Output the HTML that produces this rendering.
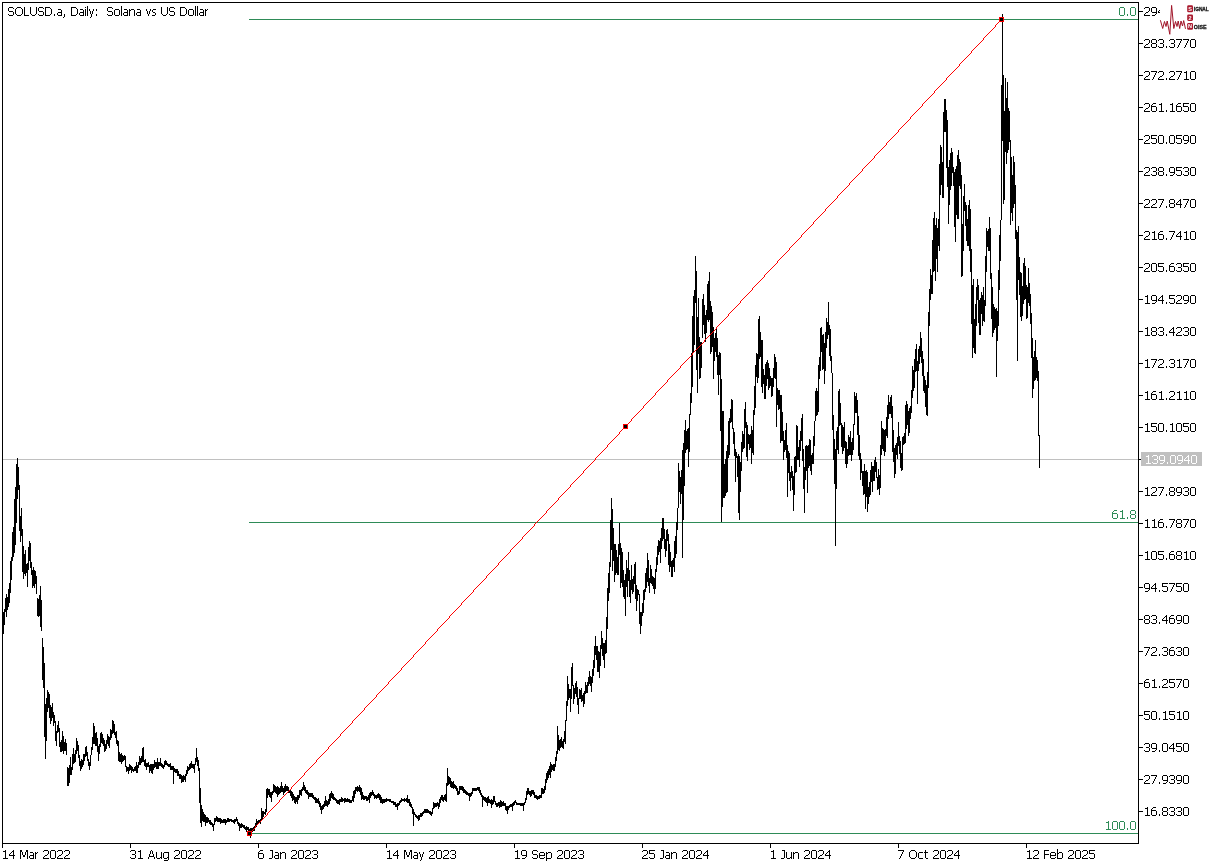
<!DOCTYPE html>
<html><head><meta charset="utf-8"><title>SOLUSD.a Daily</title>
<style>
html,body{margin:0;padding:0;background:#fff;}
body{width:1215px;height:867px;position:relative;overflow:hidden;font-family:"Liberation Sans",sans-serif;font-size:12.5px;color:#000;}
.t{position:absolute;white-space:pre;line-height:14px;height:14px;transform-origin:0 0;}
.g{color:#2e8b57;}
svg{position:absolute;left:0;top:0;}
</style></head><body>

<svg width="1215" height="867" viewBox="0 0 1215 867" shape-rendering="crispEdges">
<rect x="3" y="459" width="1135" height="1" fill="#c0c0c0"/>
<rect x="249" y="19" width="889" height="1" fill="#2e8b57"/>
<rect x="249" y="522" width="889" height="1" fill="#2e8b57"/>
<rect x="249" y="833" width="889" height="1" fill="#2e8b57"/>
<path d="M3.5 612V634M4.5 609V625M5.5 598V612M6.5 594V617M7.5 597V610M8.5 589V607M9.5 583V603M10.5 561V593M11.5 557V580M12.5 532V561M13.5 527V557M14.5 499V553M15.5 487V545M16.5 464V523M17.5 458V499M18.5 467V490M19.5 485V531M20.5 516V542M21.5 508V536M22.5 529V572M23.5 546V579M24.5 554V574M25.5 550V576M26.5 564V573M27.5 563V587M28.5 547V570M29.5 541V561M30.5 543V568M31.5 562V575M32.5 570V588M33.5 567V586M34.5 570V588M35.5 571V584M36.5 576V594M37.5 598V616M38.5 599V617M39.5 595V616M40.5 586V627M41.5 600V631M42.5 638V680M43.5 647V688M44.5 663V737M45.5 704V759M46.5 698V741M47.5 690V712M48.5 692V708M49.5 694V718M50.5 705V724M51.5 707V721M52.5 703V718M53.5 712V726M54.5 715V723M55.5 721V741M56.5 731V746M57.5 725V733M58.5 721V732M59.5 728V747M60.5 742V752M61.5 740V752M62.5 731V751M63.5 736V754M64.5 742V751M65.5 739V751M66.5 743V755M67.5 767V786M68.5 768V786M69.5 765V783M70.5 757V775M71.5 767V775M72.5 754V770M73.5 748V764M74.5 754V763M75.5 750V762M76.5 738V754M77.5 741V751M78.5 745V758M79.5 755V766M80.5 761V771M81.5 759V769M82.5 760V767M83.5 754V765M84.5 754V761M85.5 747V757M86.5 746V756M87.5 752V761M88.5 759V766M89.5 762V770M90.5 755V766M91.5 747V755M92.5 737V750M93.5 723V744M94.5 726V744M95.5 733V746M96.5 732V746M97.5 738V752M98.5 746V761M99.5 744V754M100.5 733V747M101.5 732V743M102.5 734V744M103.5 738V746M104.5 740V752M105.5 744V751M106.5 740V749M107.5 734V744M108.5 736V746M109.5 737V748M110.5 729V740M111.5 730V738M112.5 720V734M113.5 721V733M114.5 724V735M115.5 732V738M116.5 731V744M117.5 740V746M118.5 741V761M119.5 752V762M120.5 754V762M121.5 753V764M122.5 755V762M123.5 756V761M124.5 755V760M125.5 756V767M126.5 766V772M127.5 767V771M128.5 767V774M129.5 764V771M130.5 765V770M131.5 766V773M132.5 767V771M133.5 769V772M134.5 767V771M135.5 766V771M136.5 762V773M137.5 765V773M138.5 762V768M139.5 756V765M140.5 758V765M141.5 756V763M142.5 748V762M143.5 747V762M144.5 760V766M145.5 759V767M146.5 763V770M147.5 763V767M148.5 762V767M149.5 765V773M150.5 764V771M151.5 764V773M152.5 764V774M153.5 764V770M154.5 760V768M155.5 762V767M156.5 762V769M157.5 758V769M158.5 762V769M159.5 762V766M160.5 758V766M161.5 763V767M162.5 764V768M163.5 765V769M164.5 761V767M165.5 760V765M166.5 761V765M167.5 763V766M168.5 764V767M169.5 764V767M170.5 763V770M171.5 766V770M172.5 766V770M173.5 766V784M174.5 768V772M175.5 769V773M176.5 769V773M177.5 769V776M178.5 771V776M179.5 774V779M180.5 774V779M181.5 775V783M182.5 776V782M183.5 775V782M184.5 776V780M185.5 774V782M186.5 770V776M187.5 766V774M188.5 767V771M189.5 764V770M190.5 763V769M191.5 761V768M192.5 764V768M193.5 764V769M194.5 764V773M195.5 758V765M196.5 748V762M197.5 757V766M198.5 760V771M199.5 768V803M200.5 788V823M201.5 805V827M202.5 809V821M203.5 812V822M204.5 814V822M205.5 815V826M206.5 817V823M207.5 817V823M208.5 818V822M209.5 820V824M210.5 820V825M211.5 822V825M212.5 823V827M213.5 824V831M214.5 818V825M215.5 818V822M216.5 816V821M217.5 817V822M218.5 818V822M219.5 818V822M220.5 818V824M221.5 819V823M222.5 820V823M223.5 819V823M224.5 819V823M225.5 819V825M226.5 820V823M227.5 818V822M228.5 818V822M229.5 819V822M230.5 819V821M231.5 819V822M232.5 820V822M233.5 820V823M234.5 819V824M235.5 819V822M236.5 817V821M237.5 819V824M238.5 822V826M239.5 823V831M240.5 824V828M241.5 823V828M242.5 824V827M243.5 825V828M244.5 825V829M245.5 827V830M246.5 826V832M247.5 827V830M248.5 827V832M249.5 829V835M250.5 828V838M251.5 828V834M252.5 828V832M253.5 827V831M254.5 826V831M255.5 823V828M256.5 819V827M257.5 821V824M258.5 820V824M259.5 820V823M260.5 819V824M261.5 808V821M262.5 811V819M263.5 811V817M264.5 812V814M265.5 809V815M266.5 789V812M267.5 788V798M268.5 789V795M269.5 789V797M270.5 792V798M271.5 792V802M272.5 791V795M273.5 784V793M274.5 785V792M275.5 786V793M276.5 787V794M277.5 786V797M278.5 787V795M279.5 788V794M280.5 786V793M281.5 782V792M282.5 786V792M283.5 788V795M284.5 786V793M285.5 784V792M286.5 786V791M287.5 786V791M288.5 787V793M289.5 790V793M290.5 789V796M291.5 791V798M292.5 792V801M293.5 794V800M294.5 796V803M295.5 797V804M296.5 797V802M297.5 795V804M298.5 795V800M299.5 790V798M300.5 790V795M301.5 789V796M302.5 787V791M303.5 782V790M304.5 785V791M305.5 787V793M306.5 790V794M307.5 790V795M308.5 792V799M309.5 793V797M310.5 793V797M311.5 793V797M312.5 793V798M313.5 795V799M314.5 797V800M315.5 797V803M316.5 798V803M317.5 799V803M318.5 798V804M319.5 801V807M320.5 803V810M321.5 806V814M322.5 805V810M323.5 804V809M324.5 801V807M325.5 796V806M326.5 800V806M327.5 801V807M328.5 799V805M329.5 794V804M330.5 793V801M331.5 791V798M332.5 793V799M333.5 794V800M334.5 797V800M335.5 798V801M336.5 799V803M337.5 800V804M338.5 800V804M339.5 799V805M340.5 799V802M341.5 797V802M342.5 798V802M343.5 799V801M344.5 798V803M345.5 798V802M346.5 799V802M347.5 798V802M348.5 799V802M349.5 799V803M350.5 800V803M351.5 800V803M352.5 796V801M353.5 791V802M354.5 790V798M355.5 787V794M356.5 787V791M357.5 786V792M358.5 787V791M359.5 785V792M360.5 787V795M361.5 788V800M362.5 792V799M363.5 795V800M364.5 796V800M365.5 796V799M366.5 796V801M367.5 797V801M368.5 795V800M369.5 793V803M370.5 792V798M371.5 792V796M372.5 790V795M373.5 792V796M374.5 794V799M375.5 795V798M376.5 795V799M377.5 794V798M378.5 793V798M379.5 794V800M380.5 795V803M381.5 797V803M382.5 799V804M383.5 799V803M384.5 799V803M385.5 799V802M386.5 798V802M387.5 799V801M388.5 799V801M389.5 799V802M390.5 799V802M391.5 801V803M392.5 801V803M393.5 801V805M394.5 802V805M395.5 802V807M396.5 804V807M397.5 803V810M398.5 803V806M399.5 801V805M400.5 800V803M401.5 798V802M402.5 799V801M403.5 799V801M404.5 798V802M405.5 799V801M406.5 798V802M407.5 795V803M408.5 799V803M409.5 799V806M410.5 802V807M411.5 804V808M412.5 807V814M413.5 809V826M414.5 812V815M415.5 814V817M416.5 815V818M417.5 816V819M418.5 815V821M419.5 815V820M420.5 813V817M421.5 813V817M422.5 812V816M423.5 811V814M424.5 809V813M425.5 809V813M426.5 809V813M427.5 809V813M428.5 810V813M429.5 811V814M430.5 811V815M431.5 812V816M432.5 808V814M433.5 802V809M434.5 803V808M435.5 803V807M436.5 803V807M437.5 802V806M438.5 803V809M439.5 799V807M440.5 797V803M441.5 795V800M442.5 795V801M443.5 797V802M444.5 795V800M445.5 794V801M446.5 783V802M447.5 768V786M448.5 776V785M449.5 777V784M450.5 778V787M451.5 781V788M452.5 782V788M453.5 781V789M454.5 784V788M455.5 785V789M456.5 786V791M457.5 788V795M458.5 791V795M459.5 786V794M460.5 786V790M461.5 786V790M462.5 786V791M463.5 787V793M464.5 789V793M465.5 790V794M466.5 791V795M467.5 792V795M468.5 793V796M469.5 793V801M470.5 793V797M471.5 792V796M472.5 788V794M473.5 788V791M474.5 788V791M475.5 788V791M476.5 788V791M477.5 787V790M478.5 787V791M479.5 787V793M480.5 790V795M481.5 793V797M482.5 795V807M483.5 796V800M484.5 797V801M485.5 797V802M486.5 798V803M487.5 797V806M488.5 796V803M489.5 799V803M490.5 800V804M491.5 799V808M492.5 800V805M493.5 796V804M494.5 796V802M495.5 801V805M496.5 803V807M497.5 803V807M498.5 802V806M499.5 802V808M500.5 800V807M501.5 801V807M502.5 802V806M503.5 801V806M504.5 803V806M505.5 803V810M506.5 806V811M507.5 806V814M508.5 806V810M509.5 805V808M510.5 804V807M511.5 804V807M512.5 803V811M513.5 802V806M514.5 801V805M515.5 800V803M516.5 802V805M517.5 803V805M518.5 803V805M519.5 803V805M520.5 803V806M521.5 803V806M522.5 803V806M523.5 803V811M524.5 802V805M525.5 798V803M526.5 791V800M527.5 788V795M528.5 788V794M529.5 791V795M530.5 791V797M531.5 790V796M532.5 790V794M533.5 790V795M534.5 792V798M535.5 795V798M536.5 795V799M537.5 796V800M538.5 796V799M539.5 795V799M540.5 795V798M541.5 788V798M542.5 788V794M543.5 789V794M544.5 786V793M545.5 779V790M546.5 773V783M547.5 771V780M548.5 769V778M549.5 766V775M550.5 762V778M551.5 764V772M552.5 765V770M553.5 764V771M554.5 764V771M555.5 757V767M556.5 751V761M557.5 726V754M558.5 735V750M559.5 740V751M560.5 739V748M561.5 737V747M562.5 741V748M563.5 739V749M564.5 731V742M565.5 720V744M566.5 701V721M567.5 676V706M568.5 684V700M569.5 689V698M570.5 689V712M571.5 667V699M572.5 663V686M573.5 685V704M574.5 688V699M575.5 683V694M576.5 681V697M577.5 687V705M578.5 698V714M579.5 689V699M580.5 690V699M581.5 688V702M582.5 695V701M583.5 693V707M584.5 691V704M585.5 682V694M586.5 685V693M587.5 682V693M588.5 677V686M589.5 671V684M590.5 676V686M591.5 677V692M592.5 669V683M593.5 660V676M594.5 646V668M595.5 636V655M596.5 646V660M597.5 646V672M598.5 651V672M599.5 652V678M600.5 645V666M601.5 631V649M602.5 638V656M603.5 643V660M604.5 643V668M605.5 640V654M606.5 617V653M607.5 588V629M608.5 573V601M609.5 562V593M610.5 520V567M611.5 498V550M612.5 509V571M613.5 528V561M614.5 544V582M615.5 544V575M616.5 550V573M617.5 557V575M618.5 544V575M619.5 523V555M620.5 543V588M621.5 548V583M622.5 552V587M623.5 570V597M624.5 580V599M625.5 574V616M626.5 560V587M627.5 568V597M628.5 552V581M629.5 570V597M630.5 580V603M631.5 565V590M632.5 579V594M633.5 576V592M634.5 564V584M635.5 562V599M636.5 585V611M637.5 589V601M638.5 590V595M639.5 594V624M640.5 612V634M641.5 612V626M642.5 603V616M643.5 590V613M644.5 589V600M645.5 573V592M646.5 568V588M647.5 553V582M648.5 560V586M649.5 578V593M650.5 565V583M651.5 569V584M652.5 576V586M653.5 577V589M654.5 578V594M655.5 569V589M656.5 557V572M657.5 546V565M658.5 540V555M659.5 541V552M660.5 538V563M661.5 528V549M662.5 518V541M663.5 518V539M664.5 529V549M665.5 539V557M666.5 530V551M667.5 529V541M668.5 534V565M669.5 544V572M670.5 552V567M671.5 561V577M672.5 560V577M673.5 558V567M674.5 541V572M675.5 536V558M676.5 522V554M677.5 508V530M678.5 463V508M679.5 471V492M680.5 477V504M681.5 470V494M682.5 450V558M683.5 443V520M684.5 430V486M685.5 420V453M686.5 431V450M687.5 429V449M688.5 428V467M689.5 414V452M690.5 393V415M691.5 353V403M692.5 316V387M693.5 296V352M694.5 290V345M695.5 256V303M696.5 271V370M697.5 317V393M698.5 298V354M699.5 337V379M700.5 342V378M701.5 342V368M702.5 299V338M703.5 294V325M704.5 305V334M705.5 315V342M706.5 310V333M707.5 284V320M708.5 281V322M709.5 272V320M710.5 301V354M711.5 306V352M712.5 312V347M713.5 327V379M714.5 338V361M715.5 333V352M716.5 327V357M717.5 338V375M718.5 355V395M719.5 352V375M720.5 353V431M721.5 379V522M722.5 411V507M723.5 411V498M724.5 464V498M725.5 459V496M726.5 451V493M727.5 445V492M728.5 421V458M729.5 418V455M730.5 409V423M731.5 399V422M732.5 400V429M733.5 428V444M734.5 432V456M735.5 449V482M736.5 452V458M737.5 456V477M738.5 454V513M739.5 456V520M740.5 462V492M741.5 442V471M742.5 431V452M743.5 434V449M744.5 409V448M745.5 402V428M746.5 422V457M747.5 425V461M748.5 434V444M749.5 435V450M750.5 434V448M751.5 426V464M752.5 430V453M753.5 410V455M754.5 386V415M755.5 365V408M756.5 353V377M757.5 354V383M758.5 319V378M759.5 316V359M760.5 332V357M761.5 340V387M762.5 340V393M763.5 369V384M764.5 375V399M765.5 364V399M766.5 362V386M767.5 360V379M768.5 363V390M769.5 368V388M770.5 376V386M771.5 378V397M772.5 378V396M773.5 368V387M774.5 354V378M775.5 357V379M776.5 362V427M777.5 388V405M778.5 390V410M779.5 390V409M780.5 395V443M781.5 395V441M782.5 412V441M783.5 431V460M784.5 440V452M785.5 430V450M786.5 423V458M787.5 445V497M788.5 451V473M789.5 453V481M790.5 472V491M791.5 466V478M792.5 471V490M793.5 476V511M794.5 457V495M795.5 456V473M796.5 425V472M797.5 426V460M798.5 447V460M799.5 440V467M800.5 431V451M801.5 418V441M802.5 414V461M803.5 449V489M804.5 467V513M805.5 446V480M806.5 445V471M807.5 446V493M808.5 445V468M809.5 439V466M810.5 440V471M811.5 455V475M812.5 453V464M813.5 436V464M814.5 421V446M815.5 391V421M816.5 388V416M817.5 391V415M818.5 365V412M819.5 357V379M820.5 328V371M821.5 327V352M822.5 335V370M823.5 334V369M824.5 343V384M825.5 332V371M826.5 318V348M827.5 322V339M828.5 302V335M829.5 325V356M830.5 329V361M831.5 356V373M832.5 373V430M833.5 415V460M834.5 439V484M835.5 449V546M836.5 431V489M837.5 427V450M838.5 391V454M839.5 389V426M840.5 403V425M841.5 423V447M842.5 425V454M843.5 427V451M844.5 422V448M845.5 441V464M846.5 442V468M847.5 449V464M848.5 435V456M849.5 437V455M850.5 431V455M851.5 442V461M852.5 438V455M853.5 424V450M854.5 392V425M855.5 396V413M856.5 393V413M857.5 400V435M858.5 416V456M859.5 435V460M860.5 453V480M861.5 459V473M862.5 471V486M863.5 471V495M864.5 464V494M865.5 471V509M866.5 470V497M867.5 472V512M868.5 487V504M869.5 482V497M870.5 470V495M871.5 462V482M872.5 466V492M873.5 466V481M874.5 460V481M875.5 457V472M876.5 462V478M877.5 477V490M878.5 469V489M879.5 475V495M880.5 445V488M881.5 421V455M882.5 428V449M883.5 429V451M884.5 430V456M885.5 429V452M886.5 417V436M887.5 405V438M888.5 395V419M889.5 402V414M890.5 397V414M891.5 395V418M892.5 406V452M893.5 430V462M894.5 448V478M895.5 445V474M896.5 443V455M897.5 437V459M898.5 422V446M899.5 436V454M900.5 441V468M901.5 453V471M902.5 437V470M903.5 436V445M904.5 433V444M905.5 405V443M906.5 401V429M907.5 404V425M908.5 411V436M909.5 408V433M910.5 406V419M911.5 390V413M912.5 366V398M913.5 370V391M914.5 359V388M915.5 349V372M916.5 344V371M917.5 361V404M918.5 349V371M919.5 346V364M920.5 332V357M921.5 338V363M922.5 351V376M923.5 359V391M924.5 376V393M925.5 380V407M926.5 385V415M927.5 372V416M928.5 312V388M929.5 289V326M930.5 269V300M931.5 275V294M932.5 240V294M933.5 218V272M934.5 212V271M935.5 225V281M936.5 218V259M937.5 228V272M938.5 219V246M939.5 164V251M940.5 145V195M941.5 147V185M942.5 162V198M943.5 112V198M944.5 99V132M945.5 99V132M946.5 110V168M947.5 120V187M948.5 167V224M949.5 160V205M950.5 153V190M951.5 148V186M952.5 152V173M953.5 167V186M954.5 172V227M955.5 169V242M956.5 166V215M957.5 155V219M958.5 150V219M959.5 159V186M960.5 162V189M961.5 175V277M962.5 224V276M963.5 196V251M964.5 184V211M965.5 202V226M966.5 205V241M967.5 219V246M968.5 205V246M969.5 200V251M970.5 209V272M971.5 249V324M972.5 285V358M973.5 279V348M974.5 319V353M975.5 304V354M976.5 287V326M977.5 279V300M978.5 285V323M979.5 300V335M980.5 298V335M981.5 292V314M982.5 295V326M983.5 287V321M984.5 300V322M985.5 256V306M986.5 228V272M987.5 231V247M988.5 229V251M989.5 217V251M990.5 228V279M991.5 273V319M992.5 287V337M993.5 304V333M994.5 307V330M995.5 309V328M996.5 308V377M997.5 311V341M998.5 270V326M999.5 235V290M1000.5 220V261M1001.5 85V220M1002.5 14V141M1003.5 75V204M1004.5 111V200M1005.5 78V152M1006.5 98V164M1007.5 82V153M1008.5 108V150M1009.5 111V142M1010.5 140V225M1011.5 157V213M1012.5 175V221M1013.5 156V208M1014.5 162V204M1015.5 185V239M1016.5 230V300M1017.5 232V361M1018.5 226V280M1019.5 257V295M1020.5 272V317M1021.5 273V321M1022.5 286V316M1023.5 263V304M1024.5 258V300M1025.5 266V299M1026.5 285V319M1027.5 287V318M1028.5 268V303M1029.5 283V306M1030.5 294V324M1031.5 313V358M1032.5 338V398M1033.5 357V389M1034.5 351V381M1035.5 340V380M1036.5 357V378M1037.5 360V381M1038.5 371V436M1039.5 435V468" stroke="#000" stroke-width="1" fill="none"/>
<path d="M249.5 833V834M250.5 832V833M251.5 831V832M252.5 830V831M253.5 829V830M254.5 828V829M255.5 826V828M256.5 825V826M257.5 824V825M258.5 823V824M259.5 822V823M260.5 821V822M261.5 820V821M262.5 819V820M263.5 818V819M264.5 817V818M265.5 816V817M266.5 815V816M267.5 813V815M268.5 812V813M269.5 811V812M270.5 810V811M271.5 809V810M272.5 808V809M273.5 807V808M274.5 806V807M275.5 805V806M276.5 804V805M277.5 803V804M278.5 802V803M279.5 800V802M280.5 799V800M281.5 798V799M282.5 797V798M283.5 796V797M284.5 795V796M285.5 794V795M286.5 793V794M287.5 792V793M288.5 791V792M289.5 790V791M290.5 789V790M291.5 787V789M292.5 786V787M293.5 785V786M294.5 784V785M295.5 783V784M296.5 782V783M297.5 781V782M298.5 780V781M299.5 779V780M300.5 778V779M301.5 777V778M302.5 776V777M303.5 775V776M304.5 773V775M305.5 772V773M306.5 771V772M307.5 770V771M308.5 769V770M309.5 768V769M310.5 767V768M311.5 766V767M312.5 765V766M313.5 764V765M314.5 763V764M315.5 762V763M316.5 760V762M317.5 759V760M318.5 758V759M319.5 757V758M320.5 756V757M321.5 755V756M322.5 754V755M323.5 753V754M324.5 752V753M325.5 751V752M326.5 750V751M327.5 749V750M328.5 747V749M329.5 746V747M330.5 745V746M331.5 744V745M332.5 743V744M333.5 742V743M334.5 741V742M335.5 740V741M336.5 739V740M337.5 738V739M338.5 737V738M339.5 736V737M340.5 734V736M341.5 733V734M342.5 732V733M343.5 731V732M344.5 730V731M345.5 729V730M346.5 728V729M347.5 727V728M348.5 726V727M349.5 725V726M350.5 724V725M351.5 723V724M352.5 721V723M353.5 720V721M354.5 719V720M355.5 718V719M356.5 717V718M357.5 716V717M358.5 715V716M359.5 714V715M360.5 713V714M361.5 712V713M362.5 711V712M363.5 710V711M364.5 708V710M365.5 707V708M366.5 706V707M367.5 705V706M368.5 704V705M369.5 703V704M370.5 702V703M371.5 701V702M372.5 700V701M373.5 699V700M374.5 698V699M375.5 697V698M376.5 695V697M377.5 694V695M378.5 693V694M379.5 692V693M380.5 691V692M381.5 690V691M382.5 689V690M383.5 688V689M384.5 687V688M385.5 686V687M386.5 685V686M387.5 684V685M388.5 682V684M389.5 681V682M390.5 680V681M391.5 679V680M392.5 678V679M393.5 677V678M394.5 676V677M395.5 675V676M396.5 674V675M397.5 673V674M398.5 672V673M399.5 671V672M400.5 670V671M401.5 668V670M402.5 667V668M403.5 666V667M404.5 665V666M405.5 664V665M406.5 663V664M407.5 662V663M408.5 661V662M409.5 660V661M410.5 659V660M411.5 658V659M412.5 657V658M413.5 655V657M414.5 654V655M415.5 653V654M416.5 652V653M417.5 651V652M418.5 650V651M419.5 649V650M420.5 648V649M421.5 647V648M422.5 646V647M423.5 645V646M424.5 644V645M425.5 642V644M426.5 641V642M427.5 640V641M428.5 639V640M429.5 638V639M430.5 637V638M431.5 636V637M432.5 635V636M433.5 634V635M434.5 633V634M435.5 632V633M436.5 631V632M437.5 629V631M438.5 628V629M439.5 627V628M440.5 626V627M441.5 625V626M442.5 624V625M443.5 623V624M444.5 622V623M445.5 621V622M446.5 620V621M447.5 619V620M448.5 618V619M449.5 616V618M450.5 615V616M451.5 614V615M452.5 613V614M453.5 612V613M454.5 611V612M455.5 610V611M456.5 609V610M457.5 608V609M458.5 607V608M459.5 606V607M460.5 605V606M461.5 603V605M462.5 602V603M463.5 601V602M464.5 600V601M465.5 599V600M466.5 598V599M467.5 597V598M468.5 596V597M469.5 595V596M470.5 594V595M471.5 593V594M472.5 592V593M473.5 590V592M474.5 589V590M475.5 588V589M476.5 587V588M477.5 586V587M478.5 585V586M479.5 584V585M480.5 583V584M481.5 582V583M482.5 581V582M483.5 580V581M484.5 579V580M485.5 578V579M486.5 576V578M487.5 575V576M488.5 574V575M489.5 573V574M490.5 572V573M491.5 571V572M492.5 570V571M493.5 569V570M494.5 568V569M495.5 567V568M496.5 566V567M497.5 565V566M498.5 563V565M499.5 562V563M500.5 561V562M501.5 560V561M502.5 559V560M503.5 558V559M504.5 557V558M505.5 556V557M506.5 555V556M507.5 554V555M508.5 553V554M509.5 552V553M510.5 550V552M511.5 549V550M512.5 548V549M513.5 547V548M514.5 546V547M515.5 545V546M516.5 544V545M517.5 543V544M518.5 542V543M519.5 541V542M520.5 540V541M521.5 539V540M522.5 537V539M523.5 536V537M524.5 535V536M525.5 534V535M526.5 533V534M527.5 532V533M528.5 531V532M529.5 530V531M530.5 529V530M531.5 528V529M532.5 527V528M533.5 526V527M534.5 524V526M535.5 523V524M536.5 522V523M537.5 521V522M538.5 520V521M539.5 519V520M540.5 518V519M541.5 517V518M542.5 516V517M543.5 515V516M544.5 514V515M545.5 513V514M546.5 511V513M547.5 510V511M548.5 509V510M549.5 508V509M550.5 507V508M551.5 506V507M552.5 505V506M553.5 504V505M554.5 503V504M555.5 502V503M556.5 501V502M557.5 500V501M558.5 498V500M559.5 497V498M560.5 496V497M561.5 495V496M562.5 494V495M563.5 493V494M564.5 492V493M565.5 491V492M566.5 490V491M567.5 489V490M568.5 488V489M569.5 487V488M570.5 485V487M571.5 484V485M572.5 483V484M573.5 482V483M574.5 481V482M575.5 480V481M576.5 479V480M577.5 478V479M578.5 477V478M579.5 476V477M580.5 475V476M581.5 474V475M582.5 473V474M583.5 471V473M584.5 470V471M585.5 469V470M586.5 468V469M587.5 467V468M588.5 466V467M589.5 465V466M590.5 464V465M591.5 463V464M592.5 462V463M593.5 461V462M594.5 460V461M595.5 458V460M596.5 457V458M597.5 456V457M598.5 455V456M599.5 454V455M600.5 453V454M601.5 452V453M602.5 451V452M603.5 450V451M604.5 449V450M605.5 448V449M606.5 447V448M607.5 445V447M608.5 444V445M609.5 443V444M610.5 442V443M611.5 441V442M612.5 440V441M613.5 439V440M614.5 438V439M615.5 437V438M616.5 436V437M617.5 435V436M618.5 434V435M619.5 432V434M620.5 431V432M621.5 430V431M622.5 429V430M623.5 428V429M624.5 427V428M625.5 426V427M626.5 425V426M627.5 424V425M628.5 423V424M629.5 422V423M630.5 421V422M631.5 419V421M632.5 418V419M633.5 417V418M634.5 416V417M635.5 415V416M636.5 414V415M637.5 413V414M638.5 412V413M639.5 411V412M640.5 410V411M641.5 409V410M642.5 408V409M643.5 406V408M644.5 405V406M645.5 404V405M646.5 403V404M647.5 402V403M648.5 401V402M649.5 400V401M650.5 399V400M651.5 398V399M652.5 397V398M653.5 396V397M654.5 395V396M655.5 393V395M656.5 392V393M657.5 391V392M658.5 390V391M659.5 389V390M660.5 388V389M661.5 387V388M662.5 386V387M663.5 385V386M664.5 384V385M665.5 383V384M666.5 382V383M667.5 380V382M668.5 379V380M669.5 378V379M670.5 377V378M671.5 376V377M672.5 375V376M673.5 374V375M674.5 373V374M675.5 372V373M676.5 371V372M677.5 370V371M678.5 369V370M679.5 368V369M680.5 366V368M681.5 365V366M682.5 364V365M683.5 363V364M684.5 362V363M685.5 361V362M686.5 360V361M687.5 359V360M688.5 358V359M689.5 357V358M690.5 356V357M691.5 355V356M692.5 353V355M693.5 352V353M694.5 351V352M695.5 350V351M696.5 349V350M697.5 348V349M698.5 347V348M699.5 346V347M700.5 345V346M701.5 344V345M702.5 343V344M703.5 342V343M704.5 340V342M705.5 339V340M706.5 338V339M707.5 337V338M708.5 336V337M709.5 335V336M710.5 334V335M711.5 333V334M712.5 332V333M713.5 331V332M714.5 330V331M715.5 329V330M716.5 327V329M717.5 326V327M718.5 325V326M719.5 324V325M720.5 323V324M721.5 322V323M722.5 321V322M723.5 320V321M724.5 319V320M725.5 318V319M726.5 317V318M727.5 316V317M728.5 314V316M729.5 313V314M730.5 312V313M731.5 311V312M732.5 310V311M733.5 309V310M734.5 308V309M735.5 307V308M736.5 306V307M737.5 305V306M738.5 304V305M739.5 303V304M740.5 301V303M741.5 300V301M742.5 299V300M743.5 298V299M744.5 297V298M745.5 296V297M746.5 295V296M747.5 294V295M748.5 293V294M749.5 292V293M750.5 291V292M751.5 290V291M752.5 288V290M753.5 287V288M754.5 286V287M755.5 285V286M756.5 284V285M757.5 283V284M758.5 282V283M759.5 281V282M760.5 280V281M761.5 279V280M762.5 278V279M763.5 277V278M764.5 275V277M765.5 274V275M766.5 273V274M767.5 272V273M768.5 271V272M769.5 270V271M770.5 269V270M771.5 268V269M772.5 267V268M773.5 266V267M774.5 265V266M775.5 264V265M776.5 263V264M777.5 261V263M778.5 260V261M779.5 259V260M780.5 258V259M781.5 257V258M782.5 256V257M783.5 255V256M784.5 254V255M785.5 253V254M786.5 252V253M787.5 251V252M788.5 250V251M789.5 248V250M790.5 247V248M791.5 246V247M792.5 245V246M793.5 244V245M794.5 243V244M795.5 242V243M796.5 241V242M797.5 240V241M798.5 239V240M799.5 238V239M800.5 237V238M801.5 235V237M802.5 234V235M803.5 233V234M804.5 232V233M805.5 231V232M806.5 230V231M807.5 229V230M808.5 228V229M809.5 227V228M810.5 226V227M811.5 225V226M812.5 224V225M813.5 222V224M814.5 221V222M815.5 220V221M816.5 219V220M817.5 218V219M818.5 217V218M819.5 216V217M820.5 215V216M821.5 214V215M822.5 213V214M823.5 212V213M824.5 211V212M825.5 209V211M826.5 208V209M827.5 207V208M828.5 206V207M829.5 205V206M830.5 204V205M831.5 203V204M832.5 202V203M833.5 201V202M834.5 200V201M835.5 199V200M836.5 198V199M837.5 196V198M838.5 195V196M839.5 194V195M840.5 193V194M841.5 192V193M842.5 191V192M843.5 190V191M844.5 189V190M845.5 188V189M846.5 187V188M847.5 186V187M848.5 185V186M849.5 183V185M850.5 182V183M851.5 181V182M852.5 180V181M853.5 179V180M854.5 178V179M855.5 177V178M856.5 176V177M857.5 175V176M858.5 174V175M859.5 173V174M860.5 172V173M861.5 171V172M862.5 169V171M863.5 168V169M864.5 167V168M865.5 166V167M866.5 165V166M867.5 164V165M868.5 163V164M869.5 162V163M870.5 161V162M871.5 160V161M872.5 159V160M873.5 158V159M874.5 156V158M875.5 155V156M876.5 154V155M877.5 153V154M878.5 152V153M879.5 151V152M880.5 150V151M881.5 149V150M882.5 148V149M883.5 147V148M884.5 146V147M885.5 145V146M886.5 143V145M887.5 142V143M888.5 141V142M889.5 140V141M890.5 139V140M891.5 138V139M892.5 137V138M893.5 136V137M894.5 135V136M895.5 134V135M896.5 133V134M897.5 132V133M898.5 130V132M899.5 129V130M900.5 128V129M901.5 127V128M902.5 126V127M903.5 125V126M904.5 124V125M905.5 123V124M906.5 122V123M907.5 121V122M908.5 120V121M909.5 119V120M910.5 117V119M911.5 116V117M912.5 115V116M913.5 114V115M914.5 113V114M915.5 112V113M916.5 111V112M917.5 110V111M918.5 109V110M919.5 108V109M920.5 107V108M921.5 106V107M922.5 104V106M923.5 103V104M924.5 102V103M925.5 101V102M926.5 100V101M927.5 99V100M928.5 98V99M929.5 97V98M930.5 96V97M931.5 95V96M932.5 94V95M933.5 93V94M934.5 91V93M935.5 90V91M936.5 89V90M937.5 88V89M938.5 87V88M939.5 86V87M940.5 85V86M941.5 84V85M942.5 83V84M943.5 82V83M944.5 81V82M945.5 80V81M946.5 78V80M947.5 77V78M948.5 76V77M949.5 75V76M950.5 74V75M951.5 73V74M952.5 72V73M953.5 71V72M954.5 70V71M955.5 69V70M956.5 68V69M957.5 67V68M958.5 66V67M959.5 64V66M960.5 63V64M961.5 62V63M962.5 61V62M963.5 60V61M964.5 59V60M965.5 58V59M966.5 57V58M967.5 56V57M968.5 55V56M969.5 54V55M970.5 53V54M971.5 51V53M972.5 50V51M973.5 49V50M974.5 48V49M975.5 47V48M976.5 46V47M977.5 45V46M978.5 44V45M979.5 43V44M980.5 42V43M981.5 41V42M982.5 40V41M983.5 38V40M984.5 37V38M985.5 36V37M986.5 35V36M987.5 34V35M988.5 33V34M989.5 32V33M990.5 31V32M991.5 30V31M992.5 29V30M993.5 28V29M994.5 27V28M995.5 25V27M996.5 24V25M997.5 23V24M998.5 22V23M999.5 21V22M1000.5 20V21M1001.5 19V20" stroke="#f00" stroke-width="1" fill="none"/>
<rect x="247" y="831" width="5" height="5" fill="#f00"/><rect x="248" y="832" width="3" height="3" fill="#000"/>
<rect x="623" y="424" width="5" height="5" fill="#f00"/><rect x="624" y="425" width="3" height="3" fill="#000"/>
<rect x="999" y="17" width="5" height="5" fill="#f00"/><rect x="1000" y="18" width="3" height="3" fill="#000"/>
<rect x="2" y="2" width="1137" height="1" fill="#000"/>
<rect x="2" y="843" width="1137" height="1" fill="#000"/>
<rect x="2" y="2" width="1" height="842" fill="#000"/>
<rect x="1138" y="2" width="1" height="842" fill="#000"/>
<rect x="1139" y="11" width="4" height="1" fill="#000"/>
<rect x="1139" y="43" width="4" height="1" fill="#000"/>
<rect x="1139" y="75" width="4" height="1" fill="#000"/>
<rect x="1139" y="107" width="4" height="1" fill="#000"/>
<rect x="1139" y="139" width="4" height="1" fill="#000"/>
<rect x="1139" y="171" width="4" height="1" fill="#000"/>
<rect x="1139" y="203" width="4" height="1" fill="#000"/>
<rect x="1139" y="235" width="4" height="1" fill="#000"/>
<rect x="1139" y="267" width="4" height="1" fill="#000"/>
<rect x="1139" y="299" width="4" height="1" fill="#000"/>
<rect x="1139" y="331" width="4" height="1" fill="#000"/>
<rect x="1139" y="363" width="4" height="1" fill="#000"/>
<rect x="1139" y="395" width="4" height="1" fill="#000"/>
<rect x="1139" y="427" width="4" height="1" fill="#000"/>
<rect x="1139" y="491" width="4" height="1" fill="#000"/>
<rect x="1139" y="523" width="4" height="1" fill="#000"/>
<rect x="1139" y="555" width="4" height="1" fill="#000"/>
<rect x="1139" y="587" width="4" height="1" fill="#000"/>
<rect x="1139" y="619" width="4" height="1" fill="#000"/>
<rect x="1139" y="651" width="4" height="1" fill="#000"/>
<rect x="1139" y="683" width="4" height="1" fill="#000"/>
<rect x="1139" y="715" width="4" height="1" fill="#000"/>
<rect x="1139" y="747" width="4" height="1" fill="#000"/>
<rect x="1139" y="779" width="4" height="1" fill="#000"/>
<rect x="1139" y="811" width="4" height="1" fill="#000"/>
<rect x="1139" y="459" width="2" height="1" fill="#000"/>
<rect x="2" y="844" width="1" height="4" fill="#000"/>
<rect x="130" y="844" width="1" height="4" fill="#000"/>
<rect x="258" y="844" width="1" height="4" fill="#000"/>
<rect x="386" y="844" width="1" height="4" fill="#000"/>
<rect x="514" y="844" width="1" height="4" fill="#000"/>
<rect x="642" y="844" width="1" height="4" fill="#000"/>
<rect x="770" y="844" width="1" height="4" fill="#000"/>
<rect x="898" y="844" width="1" height="4" fill="#000"/>
<rect x="1026" y="844" width="1" height="4" fill="#000"/>
<rect x="1141" y="452" width="61" height="14" fill="#c0c0c0"/>
<defs><path id="g2c" d="M1 7h1v1h-1zM1 8h1v1h-1zM1 9h1v1h-1zM0 10h1v1h-1z"/><path id="g2e" d="M1 7h1v1h-1zM1 8h1v1h-1z"/><path id="g30" d="M1 0h4v1h-4zM0 1h1v1h-1zM5 1h1v1h-1zM0 2h1v1h-1zM5 2h1v1h-1zM0 3h1v1h-1zM5 3h1v1h-1zM0 4h1v1h-1zM5 4h1v1h-1zM0 5h1v1h-1zM5 5h1v1h-1zM0 6h1v1h-1zM5 6h1v1h-1zM0 7h1v1h-1zM5 7h1v1h-1zM1 8h4v1h-4z"/><path id="g31" d="M3 0h1v1h-1zM1 1h3v1h-3zM3 2h1v1h-1zM3 3h1v1h-1zM3 4h1v1h-1zM3 5h1v1h-1zM3 6h1v1h-1zM3 7h1v1h-1zM1 8h5v1h-5z"/><path id="g32" d="M1 0h4v1h-4zM0 1h1v1h-1zM5 1h1v1h-1zM5 2h1v1h-1zM5 3h1v1h-1zM4 4h1v1h-1zM2 5h2v1h-2zM1 6h1v1h-1zM0 7h1v1h-1zM0 8h6v1h-6z"/><path id="g33" d="M1 0h4v1h-4zM0 1h1v1h-1zM5 1h1v1h-1zM5 2h1v1h-1zM5 3h1v1h-1zM2 4h3v1h-3zM5 5h1v1h-1zM5 6h1v1h-1zM0 7h1v1h-1zM5 7h1v1h-1zM1 8h4v1h-4z"/><path id="g34" d="M4 0h1v1h-1zM3 1h2v1h-2zM2 2h1v1h-1zM4 2h1v1h-1zM1 3h1v1h-1zM4 3h1v1h-1zM0 4h1v1h-1zM4 4h1v1h-1zM0 5h6v1h-6zM4 6h1v1h-1zM4 7h1v1h-1zM4 8h1v1h-1z"/><path id="g35" d="M0 0h6v1h-6zM0 1h1v1h-1zM0 2h1v1h-1zM0 3h5v1h-5zM5 4h1v1h-1zM5 5h1v1h-1zM5 6h1v1h-1zM0 7h1v1h-1zM5 7h1v1h-1zM1 8h4v1h-4z"/><path id="g36" d="M2 0h3v1h-3zM1 1h1v1h-1zM0 2h1v1h-1zM0 3h5v1h-5zM0 4h1v1h-1zM5 4h1v1h-1zM0 5h1v1h-1zM5 5h1v1h-1zM0 6h1v1h-1zM5 6h1v1h-1zM0 7h1v1h-1zM5 7h1v1h-1zM1 8h4v1h-4z"/><path id="g37" d="M0 0h6v1h-6zM5 1h1v1h-1zM4 2h1v1h-1zM4 3h1v1h-1zM3 4h1v1h-1zM3 5h1v1h-1zM2 6h1v1h-1zM2 7h1v1h-1zM1 8h1v1h-1z"/><path id="g38" d="M1 0h4v1h-4zM0 1h1v1h-1zM5 1h1v1h-1zM0 2h1v1h-1zM5 2h1v1h-1zM0 3h1v1h-1zM5 3h1v1h-1zM1 4h4v1h-4zM0 5h1v1h-1zM5 5h1v1h-1zM0 6h1v1h-1zM5 6h1v1h-1zM0 7h1v1h-1zM5 7h1v1h-1zM1 8h4v1h-4z"/><path id="g39" d="M1 0h4v1h-4zM0 1h1v1h-1zM5 1h1v1h-1zM0 2h1v1h-1zM5 2h1v1h-1zM0 3h1v1h-1zM5 3h1v1h-1zM0 4h1v1h-1zM5 4h1v1h-1zM1 5h5v1h-5zM5 6h1v1h-1zM4 7h1v1h-1zM1 8h3v1h-3z"/><path id="g3a" d="M1 2h1v1h-1zM1 3h1v1h-1zM1 7h1v1h-1zM1 8h1v1h-1z"/><path id="g41" d="M3 0h1v1h-1zM2 1h1v1h-1zM4 1h1v1h-1zM2 2h1v1h-1zM4 2h1v1h-1zM2 3h1v1h-1zM4 3h1v1h-1zM1 4h1v1h-1zM5 4h1v1h-1zM1 5h1v1h-1zM5 5h1v1h-1zM1 6h5v1h-5zM0 7h1v1h-1zM6 7h1v1h-1zM0 8h1v1h-1zM6 8h1v1h-1z"/><path id="g44" d="M0 0h5v1h-5zM0 1h1v1h-1zM5 1h1v1h-1zM0 2h1v1h-1zM6 2h1v1h-1zM0 3h1v1h-1zM6 3h1v1h-1zM0 4h1v1h-1zM6 4h1v1h-1zM0 5h1v1h-1zM6 5h1v1h-1zM0 6h1v1h-1zM6 6h1v1h-1zM0 7h1v1h-1zM5 7h1v1h-1zM0 8h5v1h-5z"/><path id="g46" d="M0 0h5v1h-5zM0 1h1v1h-1zM0 2h1v1h-1zM0 3h1v1h-1zM0 4h5v1h-5zM0 5h1v1h-1zM0 6h1v1h-1zM0 7h1v1h-1zM0 8h1v1h-1z"/><path id="g4a" d="M1 0h3v1h-3zM3 1h1v1h-1zM3 2h1v1h-1zM3 3h1v1h-1zM3 4h1v1h-1zM3 5h1v1h-1zM3 6h1v1h-1zM3 7h1v1h-1zM0 8h3v1h-3z"/><path id="g4c" d="M0 0h1v1h-1zM0 1h1v1h-1zM0 2h1v1h-1zM0 3h1v1h-1zM0 4h1v1h-1zM0 5h1v1h-1zM0 6h1v1h-1zM0 7h1v1h-1zM0 8h5v1h-5z"/><path id="g4d" d="M0 0h2v1h-2zM6 0h2v1h-2zM0 1h2v1h-2zM6 1h2v1h-2zM0 2h1v1h-1zM2 2h1v1h-1zM5 2h1v1h-1zM7 2h1v1h-1zM0 3h1v1h-1zM2 3h1v1h-1zM5 3h1v1h-1zM7 3h1v1h-1zM0 4h1v1h-1zM2 4h1v1h-1zM5 4h1v1h-1zM7 4h1v1h-1zM0 5h1v1h-1zM3 5h2v1h-2zM7 5h1v1h-1zM0 6h1v1h-1zM3 6h2v1h-2zM7 6h1v1h-1zM0 7h1v1h-1zM7 7h1v1h-1zM0 8h1v1h-1zM7 8h1v1h-1z"/><path id="g4f" d="M2 0h4v1h-4zM1 1h1v1h-1zM6 1h1v1h-1zM0 2h1v1h-1zM7 2h1v1h-1zM0 3h1v1h-1zM7 3h1v1h-1zM0 4h1v1h-1zM7 4h1v1h-1zM0 5h1v1h-1zM7 5h1v1h-1zM0 6h1v1h-1zM7 6h1v1h-1zM1 7h1v1h-1zM6 7h1v1h-1zM2 8h4v1h-4z"/><path id="g53" d="M1 0h4v1h-4zM0 1h1v1h-1zM5 1h1v1h-1zM0 2h1v1h-1zM0 3h1v1h-1zM1 4h4v1h-4zM5 5h1v1h-1zM5 6h1v1h-1zM0 7h1v1h-1zM5 7h1v1h-1zM1 8h4v1h-4z"/><path id="g55" d="M0 0h1v1h-1zM6 0h1v1h-1zM0 1h1v1h-1zM6 1h1v1h-1zM0 2h1v1h-1zM6 2h1v1h-1zM0 3h1v1h-1zM6 3h1v1h-1zM0 4h1v1h-1zM6 4h1v1h-1zM0 5h1v1h-1zM6 5h1v1h-1zM0 6h1v1h-1zM6 6h1v1h-1zM1 7h1v1h-1zM5 7h1v1h-1zM2 8h3v1h-3z"/><path id="g61" d="M1 2h3v1h-3zM4 3h1v1h-1zM4 4h1v1h-1zM1 5h4v1h-4zM0 6h1v1h-1zM4 6h1v1h-1zM0 7h1v1h-1zM4 7h1v1h-1zM1 8h4v1h-4z"/><path id="g62" d="M0 -1h1v1h-1zM0 0h1v1h-1zM0 1h1v1h-1zM0 2h1v1h-1zM2 2h3v1h-3zM0 3h2v1h-2zM5 3h1v1h-1zM0 4h1v1h-1zM5 4h1v1h-1zM0 5h1v1h-1zM5 5h1v1h-1zM0 6h1v1h-1zM5 6h1v1h-1zM0 7h1v1h-1zM5 7h1v1h-1zM0 8h5v1h-5z"/><path id="g63" d="M1 2h4v1h-4zM0 3h1v1h-1zM0 4h1v1h-1zM0 5h1v1h-1zM0 6h1v1h-1zM0 7h1v1h-1zM1 8h4v1h-4z"/><path id="g65" d="M1 2h4v1h-4zM0 3h1v1h-1zM5 3h1v1h-1zM0 4h1v1h-1zM5 4h1v1h-1zM0 5h6v1h-6zM0 6h1v1h-1zM0 7h1v1h-1zM5 7h1v1h-1zM1 8h4v1h-4z"/><path id="g67" d="M1 2h5v1h-5zM0 3h1v1h-1zM5 3h1v1h-1zM0 4h1v1h-1zM5 4h1v1h-1zM0 5h1v1h-1zM5 5h1v1h-1zM0 6h1v1h-1zM5 6h1v1h-1zM0 7h1v1h-1zM4 7h2v1h-2zM1 8h3v1h-3zM5 8h1v1h-1zM5 9h1v1h-1zM1 10h4v1h-4z"/><path id="g69" d="M0 0h1v1h-1zM0 2h1v1h-1zM0 3h1v1h-1zM0 4h1v1h-1zM0 5h1v1h-1zM0 6h1v1h-1zM0 7h1v1h-1zM0 8h1v1h-1z"/><path id="g6c" d="M0 -1h1v1h-1zM0 0h1v1h-1zM0 1h1v1h-1zM0 2h1v1h-1zM0 3h1v1h-1zM0 4h1v1h-1zM0 5h1v1h-1zM0 6h1v1h-1zM0 7h1v1h-1zM0 8h1v1h-1z"/><path id="g6e" d="M0 2h1v1h-1zM2 2h3v1h-3zM0 3h2v1h-2zM5 3h1v1h-1zM0 4h1v1h-1zM5 4h1v1h-1zM0 5h1v1h-1zM5 5h1v1h-1zM0 6h1v1h-1zM5 6h1v1h-1zM0 7h1v1h-1zM5 7h1v1h-1zM0 8h1v1h-1zM5 8h1v1h-1z"/><path id="g6f" d="M1 2h4v1h-4zM0 3h1v1h-1zM5 3h1v1h-1zM0 4h1v1h-1zM5 4h1v1h-1zM0 5h1v1h-1zM5 5h1v1h-1zM0 6h1v1h-1zM5 6h1v1h-1zM0 7h1v1h-1zM5 7h1v1h-1zM1 8h4v1h-4z"/><path id="g70" d="M0 2h1v1h-1zM2 2h3v1h-3zM0 3h2v1h-2zM5 3h1v1h-1zM0 4h1v1h-1zM5 4h1v1h-1zM0 5h1v1h-1zM5 5h1v1h-1zM0 6h1v1h-1zM5 6h1v1h-1zM0 7h1v1h-1zM5 7h1v1h-1zM0 8h5v1h-5zM0 9h1v1h-1zM0 10h1v1h-1z"/><path id="g72" d="M0 2h1v1h-1zM2 2h1v1h-1zM0 3h2v1h-2zM0 4h1v1h-1zM0 5h1v1h-1zM0 6h1v1h-1zM0 7h1v1h-1zM0 8h1v1h-1z"/><path id="g73" d="M1 2h3v1h-3zM0 3h1v1h-1zM0 4h1v1h-1zM1 5h2v1h-2zM3 6h1v1h-1zM3 7h1v1h-1zM0 8h3v1h-3z"/><path id="g74" d="M1 0h1v1h-1zM1 1h1v1h-1zM0 2h4v1h-4zM1 3h1v1h-1zM1 4h1v1h-1zM1 5h1v1h-1zM1 6h1v1h-1zM1 7h1v1h-1zM2 8h2v1h-2z"/><path id="g75" d="M0 2h1v1h-1zM5 2h1v1h-1zM0 3h1v1h-1zM5 3h1v1h-1zM0 4h1v1h-1zM5 4h1v1h-1zM0 5h1v1h-1zM5 5h1v1h-1zM0 6h1v1h-1zM5 6h1v1h-1zM0 7h1v1h-1zM4 7h2v1h-2zM1 8h3v1h-3zM5 8h1v1h-1z"/><path id="g76" d="M0 2h1v1h-1zM4 2h1v1h-1zM0 3h1v1h-1zM4 3h1v1h-1zM1 4h1v1h-1zM3 4h1v1h-1zM1 5h1v1h-1zM3 5h1v1h-1zM1 6h1v1h-1zM3 6h1v1h-1zM2 7h1v1h-1zM2 8h1v1h-1z"/><path id="g79" d="M0 2h1v1h-1zM4 2h1v1h-1zM0 3h1v1h-1zM4 3h1v1h-1zM1 4h1v1h-1zM3 4h1v1h-1zM1 5h1v1h-1zM3 5h1v1h-1zM1 6h1v1h-1zM3 6h1v1h-1zM2 7h1v1h-1zM2 8h1v1h-1zM2 9h1v1h-1zM1 10h1v1h-1z"/></defs>
<g fill="#000"><use href="#g53" x="8" y="7"/><use href="#g4f" x="15" y="7"/><use href="#g4c" x="24" y="7"/><use href="#g55" x="30" y="7"/><use href="#g53" x="38" y="7"/><use href="#g44" x="45" y="7"/><use href="#g2e" x="53" y="7"/><use href="#g61" x="57" y="7"/><use href="#g2c" x="63" y="7"/><use href="#g44" x="71" y="7"/><use href="#g61" x="79" y="7"/><use href="#g69" x="85" y="7"/><use href="#g6c" x="87" y="7"/><use href="#g79" x="89" y="7"/><use href="#g3a" x="95" y="7"/><use href="#g53" x="107" y="7"/><use href="#g6f" x="114" y="7"/><use href="#g6c" x="121" y="7"/><use href="#g61" x="123" y="7"/><use href="#g6e" x="129" y="7"/><use href="#g61" x="136" y="7"/><use href="#g76" x="146" y="7"/><use href="#g73" x="152" y="7"/><use href="#g55" x="161" y="7"/><use href="#g53" x="169" y="7"/><use href="#g44" x="180" y="7"/><use href="#g6f" x="188" y="7"/><use href="#g6c" x="195" y="7"/><use href="#g6c" x="197" y="7"/><use href="#g61" x="199" y="7"/><use href="#g72" x="205" y="7"/><use href="#g32" x="1144" y="7"/><use href="#g39" x="1151" y="7"/><use href="#g34" x="1158" y="7"/><use href="#g2e" x="1165" y="7"/><use href="#g34" x="1169" y="7"/><use href="#g38" x="1176" y="7"/><use href="#g33" x="1183" y="7"/><use href="#g30" x="1190" y="7"/><use href="#g32" x="1144" y="39"/><use href="#g38" x="1151" y="39"/><use href="#g33" x="1158" y="39"/><use href="#g2e" x="1165" y="39"/><use href="#g33" x="1169" y="39"/><use href="#g37" x="1176" y="39"/><use href="#g37" x="1183" y="39"/><use href="#g30" x="1190" y="39"/><use href="#g32" x="1144" y="71"/><use href="#g37" x="1151" y="71"/><use href="#g32" x="1158" y="71"/><use href="#g2e" x="1165" y="71"/><use href="#g32" x="1169" y="71"/><use href="#g37" x="1176" y="71"/><use href="#g31" x="1183" y="71"/><use href="#g30" x="1190" y="71"/><use href="#g32" x="1144" y="103"/><use href="#g36" x="1151" y="103"/><use href="#g31" x="1158" y="103"/><use href="#g2e" x="1165" y="103"/><use href="#g31" x="1169" y="103"/><use href="#g36" x="1176" y="103"/><use href="#g35" x="1183" y="103"/><use href="#g30" x="1190" y="103"/><use href="#g32" x="1144" y="135"/><use href="#g35" x="1151" y="135"/><use href="#g30" x="1158" y="135"/><use href="#g2e" x="1165" y="135"/><use href="#g30" x="1169" y="135"/><use href="#g35" x="1176" y="135"/><use href="#g39" x="1183" y="135"/><use href="#g30" x="1190" y="135"/><use href="#g32" x="1144" y="167"/><use href="#g33" x="1151" y="167"/><use href="#g38" x="1158" y="167"/><use href="#g2e" x="1165" y="167"/><use href="#g39" x="1169" y="167"/><use href="#g35" x="1176" y="167"/><use href="#g33" x="1183" y="167"/><use href="#g30" x="1190" y="167"/><use href="#g32" x="1144" y="199"/><use href="#g32" x="1151" y="199"/><use href="#g37" x="1158" y="199"/><use href="#g2e" x="1165" y="199"/><use href="#g38" x="1169" y="199"/><use href="#g34" x="1176" y="199"/><use href="#g37" x="1183" y="199"/><use href="#g30" x="1190" y="199"/><use href="#g32" x="1144" y="231"/><use href="#g31" x="1151" y="231"/><use href="#g36" x="1158" y="231"/><use href="#g2e" x="1165" y="231"/><use href="#g37" x="1169" y="231"/><use href="#g34" x="1176" y="231"/><use href="#g31" x="1183" y="231"/><use href="#g30" x="1190" y="231"/><use href="#g32" x="1144" y="263"/><use href="#g30" x="1151" y="263"/><use href="#g35" x="1158" y="263"/><use href="#g2e" x="1165" y="263"/><use href="#g36" x="1169" y="263"/><use href="#g33" x="1176" y="263"/><use href="#g35" x="1183" y="263"/><use href="#g30" x="1190" y="263"/><use href="#g31" x="1144" y="295"/><use href="#g39" x="1151" y="295"/><use href="#g34" x="1158" y="295"/><use href="#g2e" x="1165" y="295"/><use href="#g35" x="1169" y="295"/><use href="#g32" x="1176" y="295"/><use href="#g39" x="1183" y="295"/><use href="#g30" x="1190" y="295"/><use href="#g31" x="1144" y="327"/><use href="#g38" x="1151" y="327"/><use href="#g33" x="1158" y="327"/><use href="#g2e" x="1165" y="327"/><use href="#g34" x="1169" y="327"/><use href="#g32" x="1176" y="327"/><use href="#g33" x="1183" y="327"/><use href="#g30" x="1190" y="327"/><use href="#g31" x="1144" y="359"/><use href="#g37" x="1151" y="359"/><use href="#g32" x="1158" y="359"/><use href="#g2e" x="1165" y="359"/><use href="#g33" x="1169" y="359"/><use href="#g31" x="1176" y="359"/><use href="#g37" x="1183" y="359"/><use href="#g30" x="1190" y="359"/><use href="#g31" x="1144" y="391"/><use href="#g36" x="1151" y="391"/><use href="#g31" x="1158" y="391"/><use href="#g2e" x="1165" y="391"/><use href="#g32" x="1169" y="391"/><use href="#g31" x="1176" y="391"/><use href="#g31" x="1183" y="391"/><use href="#g30" x="1190" y="391"/><use href="#g31" x="1144" y="423"/><use href="#g35" x="1151" y="423"/><use href="#g30" x="1158" y="423"/><use href="#g2e" x="1165" y="423"/><use href="#g31" x="1169" y="423"/><use href="#g30" x="1176" y="423"/><use href="#g35" x="1183" y="423"/><use href="#g30" x="1190" y="423"/><use href="#g31" x="1144" y="487"/><use href="#g32" x="1151" y="487"/><use href="#g37" x="1158" y="487"/><use href="#g2e" x="1165" y="487"/><use href="#g38" x="1169" y="487"/><use href="#g39" x="1176" y="487"/><use href="#g33" x="1183" y="487"/><use href="#g30" x="1190" y="487"/><use href="#g31" x="1144" y="519"/><use href="#g31" x="1151" y="519"/><use href="#g36" x="1158" y="519"/><use href="#g2e" x="1165" y="519"/><use href="#g37" x="1169" y="519"/><use href="#g38" x="1176" y="519"/><use href="#g37" x="1183" y="519"/><use href="#g30" x="1190" y="519"/><use href="#g31" x="1144" y="551"/><use href="#g30" x="1151" y="551"/><use href="#g35" x="1158" y="551"/><use href="#g2e" x="1165" y="551"/><use href="#g36" x="1169" y="551"/><use href="#g38" x="1176" y="551"/><use href="#g31" x="1183" y="551"/><use href="#g30" x="1190" y="551"/><use href="#g39" x="1144" y="583"/><use href="#g34" x="1151" y="583"/><use href="#g2e" x="1158" y="583"/><use href="#g35" x="1162" y="583"/><use href="#g37" x="1169" y="583"/><use href="#g35" x="1176" y="583"/><use href="#g30" x="1183" y="583"/><use href="#g38" x="1144" y="615"/><use href="#g33" x="1151" y="615"/><use href="#g2e" x="1158" y="615"/><use href="#g34" x="1162" y="615"/><use href="#g36" x="1169" y="615"/><use href="#g39" x="1176" y="615"/><use href="#g30" x="1183" y="615"/><use href="#g37" x="1144" y="647"/><use href="#g32" x="1151" y="647"/><use href="#g2e" x="1158" y="647"/><use href="#g33" x="1162" y="647"/><use href="#g36" x="1169" y="647"/><use href="#g33" x="1176" y="647"/><use href="#g30" x="1183" y="647"/><use href="#g36" x="1144" y="679"/><use href="#g31" x="1151" y="679"/><use href="#g2e" x="1158" y="679"/><use href="#g32" x="1162" y="679"/><use href="#g35" x="1169" y="679"/><use href="#g37" x="1176" y="679"/><use href="#g30" x="1183" y="679"/><use href="#g35" x="1144" y="711"/><use href="#g30" x="1151" y="711"/><use href="#g2e" x="1158" y="711"/><use href="#g31" x="1162" y="711"/><use href="#g35" x="1169" y="711"/><use href="#g31" x="1176" y="711"/><use href="#g30" x="1183" y="711"/><use href="#g33" x="1144" y="743"/><use href="#g39" x="1151" y="743"/><use href="#g2e" x="1158" y="743"/><use href="#g30" x="1162" y="743"/><use href="#g34" x="1169" y="743"/><use href="#g35" x="1176" y="743"/><use href="#g30" x="1183" y="743"/><use href="#g32" x="1144" y="775"/><use href="#g37" x="1151" y="775"/><use href="#g2e" x="1158" y="775"/><use href="#g39" x="1162" y="775"/><use href="#g33" x="1169" y="775"/><use href="#g39" x="1176" y="775"/><use href="#g30" x="1183" y="775"/><use href="#g31" x="1144" y="807"/><use href="#g36" x="1151" y="807"/><use href="#g2e" x="1158" y="807"/><use href="#g38" x="1162" y="807"/><use href="#g33" x="1169" y="807"/><use href="#g33" x="1176" y="807"/><use href="#g30" x="1183" y="807"/><use href="#g31" x="2" y="850"/><use href="#g34" x="9" y="850"/><use href="#g4d" x="20" y="850"/><use href="#g61" x="29" y="850"/><use href="#g72" x="35" y="850"/><use href="#g32" x="43" y="850"/><use href="#g30" x="50" y="850"/><use href="#g32" x="57" y="850"/><use href="#g32" x="64" y="850"/><use href="#g33" x="130" y="850"/><use href="#g31" x="137" y="850"/><use href="#g41" x="148" y="850"/><use href="#g75" x="156" y="850"/><use href="#g67" x="163" y="850"/><use href="#g32" x="174" y="850"/><use href="#g30" x="181" y="850"/><use href="#g32" x="188" y="850"/><use href="#g32" x="195" y="850"/><use href="#g36" x="258" y="850"/><use href="#g4a" x="269" y="850"/><use href="#g61" x="274" y="850"/><use href="#g6e" x="280" y="850"/><use href="#g32" x="291" y="850"/><use href="#g30" x="298" y="850"/><use href="#g32" x="305" y="850"/><use href="#g33" x="312" y="850"/><use href="#g31" x="386" y="850"/><use href="#g34" x="393" y="850"/><use href="#g4d" x="404" y="850"/><use href="#g61" x="413" y="850"/><use href="#g79" x="419" y="850"/><use href="#g32" x="429" y="850"/><use href="#g30" x="436" y="850"/><use href="#g32" x="443" y="850"/><use href="#g33" x="450" y="850"/><use href="#g31" x="514" y="850"/><use href="#g39" x="521" y="850"/><use href="#g53" x="532" y="850"/><use href="#g65" x="539" y="850"/><use href="#g70" x="546" y="850"/><use href="#g32" x="557" y="850"/><use href="#g30" x="564" y="850"/><use href="#g32" x="571" y="850"/><use href="#g33" x="578" y="850"/><use href="#g32" x="642" y="850"/><use href="#g35" x="649" y="850"/><use href="#g4a" x="660" y="850"/><use href="#g61" x="665" y="850"/><use href="#g6e" x="671" y="850"/><use href="#g32" x="682" y="850"/><use href="#g30" x="689" y="850"/><use href="#g32" x="696" y="850"/><use href="#g34" x="703" y="850"/><use href="#g31" x="770" y="850"/><use href="#g4a" x="781" y="850"/><use href="#g75" x="786" y="850"/><use href="#g6e" x="793" y="850"/><use href="#g32" x="804" y="850"/><use href="#g30" x="811" y="850"/><use href="#g32" x="818" y="850"/><use href="#g34" x="825" y="850"/><use href="#g37" x="898" y="850"/><use href="#g4f" x="909" y="850"/><use href="#g63" x="918" y="850"/><use href="#g74" x="924" y="850"/><use href="#g32" x="933" y="850"/><use href="#g30" x="940" y="850"/><use href="#g32" x="947" y="850"/><use href="#g34" x="954" y="850"/><use href="#g31" x="1026" y="850"/><use href="#g32" x="1033" y="850"/><use href="#g46" x="1044" y="850"/><use href="#g65" x="1050" y="850"/><use href="#g62" x="1057" y="850"/><use href="#g32" x="1068" y="850"/><use href="#g30" x="1075" y="850"/><use href="#g32" x="1082" y="850"/><use href="#g35" x="1089" y="850"/></g>
<g fill="#2e8b57"><use href="#g30" x="1119" y="7"/><use href="#g2e" x="1126" y="7"/><use href="#g30" x="1130" y="7"/><use href="#g36" x="1112" y="510"/><use href="#g31" x="1119" y="510"/><use href="#g2e" x="1126" y="510"/><use href="#g38" x="1130" y="510"/><use href="#g31" x="1105" y="821"/><use href="#g30" x="1112" y="821"/><use href="#g30" x="1119" y="821"/><use href="#g2e" x="1126" y="821"/><use href="#g30" x="1130" y="821"/></g>
<g fill="#fff"><use href="#g31" x="1145" y="455"/><use href="#g33" x="1152" y="455"/><use href="#g39" x="1159" y="455"/><use href="#g2e" x="1166" y="455"/><use href="#g30" x="1170" y="455"/><use href="#g39" x="1177" y="455"/><use href="#g34" x="1184" y="455"/><use href="#g30" x="1191" y="455"/></g>
</svg>
<div style="position:absolute;left:1160px;top:3px;width:55px;height:34px;background:#fff;"></div>
<svg width="56" height="36" viewBox="1159 2 56 36" style="left:1159px;top:2px;will-change:transform;">
<path d="M1160.5 20.6L1162.7 28.5L1164.5 21.5L1166 26.5L1167.2 21L1169.8 34.3L1171.6 5.4L1173.8 28.5L1175.5 21.5L1177 26.5L1178.2 21L1179.7 28.5L1181 21L1182.5 26L1183.7 20.6L1185.4 28.5" fill="none" stroke="#a01428" stroke-width="1.0" stroke-linejoin="round" stroke-linecap="round"/>
<rect x="1187.2" y="5.2" width="5.8" height="7" rx="1.3" fill="#a8182c"/>
<rect x="1187.2" y="14.4" width="5.8" height="6.5" rx="1.3" fill="#a8182c"/>
<rect x="1187.2" y="23" width="5.8" height="6.8" rx="1.3" fill="#a8182c"/>
<g font-family="Liberation Sans, sans-serif" font-weight="bold" font-size="5.5" fill="#fff" text-anchor="middle">
<text x="1190.1" y="10.7">S</text><text x="1190.1" y="19.6">2</text><text x="1190.1" y="28.4">N</text></g>
<g font-family="Liberation Sans, sans-serif" font-weight="bold" font-size="6.2" fill="#1a1a1a" stroke="#1a1a1a" stroke-width="0.35">
<text x="1193.8" y="11.2" textLength="15" lengthAdjust="spacingAndGlyphs">IGNAL</text><text x="1193.8" y="28.7" textLength="12.8" lengthAdjust="spacingAndGlyphs">OISE</text></g>
</svg>
</body></html>
